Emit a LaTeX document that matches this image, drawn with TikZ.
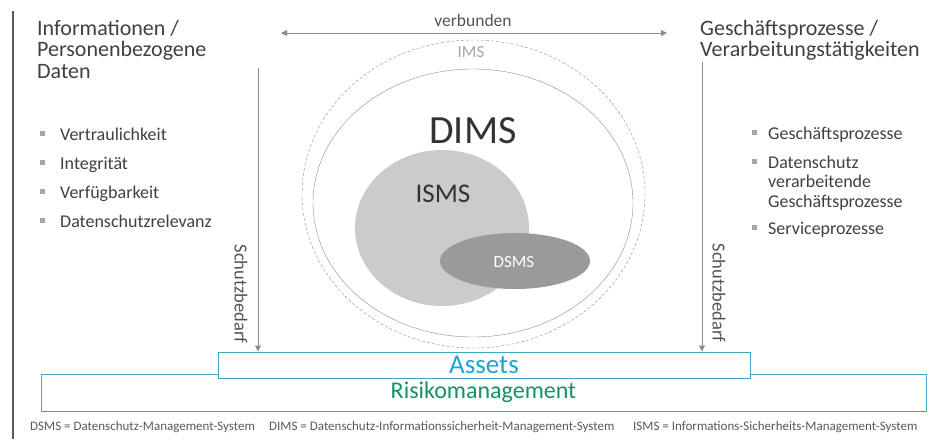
\documentclass[tikz,border=0pt]{standalone}
\usepackage{fontspec}
\setmainfont{Carlito}
\usepackage{xcolor}
\usepackage{tikz}
\usetikzlibrary{positioning, arrows.meta}

\definecolor{textdark}{HTML}{404040}
\definecolor{arrowgray}{HTML}{8C8C8C}
\definecolor{bulletgray}{HTML}{A6A6A6}
\definecolor{ismsgray}{HTML}{CBCBCB}
\definecolor{dsmsgray}{HTML}{9A9A9A}
\definecolor{boxteal}{HTML}{3FA6C0}
\definecolor{assetblue}{HTML}{1BA3D8}
\definecolor{riskgreen}{HTML}{14935E}

\begin{document}
\begin{tikzpicture}[x=1pt, y=-1pt, every node/.style={inner sep=0pt, text=textdark},
  head/.style={font=\fontsize{22}{21.5}\selectfont, align=left, anchor=north west},
  item/.style={font=\fontsize{18}{19.5}\selectfont, align=left, anchor=base west},
  flow/.style={draw=arrowgray, line width=1pt, -{Triangle[length=6pt, width=6pt]}},
  note/.style={font=\fontsize{13}{14}\selectfont, text=black!65, anchor=base west}]

  \useasboundingbox (0,0) rectangle (933,439);
  \draw[black!65, line width=1.3pt] (13,11) -- (13,439);

  % headings
  \node[head] (infohead) at (37,20) {Informationen /\\Personenbezogene\\Daten};
  \node[head] (prochead) at (700,20) {Geschäftsprozesse /\\Verarbeitungstätigkeiten};

  % bullet lists (multi-line items sit on their last baseline)
  \foreach \txt [count=\i] in {Vertraulichkeit, Integrität, Verfügbarkeit, Datenschutzrelevanz} {
    \node[item] (info\i) at (60,111+29*\i) {\txt};
    \fill[bulletgray] (39.5,101.5+29*\i) rectangle ++(5,5);
  }
  \foreach \y/\top/\txt [count=\i] in {139/139/Geschäftsprozesse, 207/168/{Datenschutz\\verarbeitende\\Geschäftsprozesse}, 234/234/Serviceprozesse} {
    \node[item] (proc\i) at (768,\y) {\txt};
    \fill[bulletgray] (752,\top-9.5) rectangle ++(5,5);
  }

  % IMS / DIMS / ISMS / DSMS
  \draw[arrowgray, dash pattern=on 3pt off 2pt] (473.5,194) ellipse [x radius=171.5, y radius=154];
  \draw[arrowgray] (473,203) ellipse [x radius=160, y radius=134];
  \fill[ismsgray] (442,228) ellipse [x radius=87, y radius=78];
  \fill[dsmsgray] (515,261) ellipse [x radius=75, y radius=28];
  \node[anchor=base, text=bulletgray, font=\fontsize{17}{17}\selectfont] (ims) at (471,57) {IMS};
  \node[anchor=base, text=black!80, font=\fontsize{40}{40}\selectfont] (dims) at (473,143) {DIMS};
  \node[anchor=base, text=black!80, font=\fontsize{27}{27}\selectfont] (isms) at (443,202) {ISMS};
  \node[anchor=base, text=white, font=\fontsize{17}{17}\selectfont] (dsms) at (514,267) {DSMS};

  % boxes at the bottom
  \node[draw=boxteal, line width=1pt, minimum width=885pt, minimum height=37pt,
    text=riskgreen, font=\fontsize{24}{24}\selectfont] (risk) at (483.5,392.5) {Risikomanagement};
  \node[draw=boxteal, fill=white, line width=1pt, minimum width=532pt, minimum height=26pt,
    text=assetblue, font=\fontsize{27}{27}\selectfont] (assets) at (484,365) {Assets};

  % arrows
  \coordinate (linfo) at (258,68);
  \coordinate (rproc) at (702,62);
  \coordinate (vleft) at (281,33);
  \coordinate (vright) at (667,33);
  \draw[flow] (linfo) -- (linfo |- assets.north);
  \draw[flow] (rproc) -- (rproc |- assets.north);
  \draw[flow, {Triangle[length=6pt, width=6pt]}-{Triangle[length=6pt, width=6pt]}] (vleft) -- (vright);
  \node[anchor=base, text=textdark!90, font=\fontsize{17.5}{17.5}\selectfont] (verb) at (473,26.5) {verbunden};
  \node[rotate=-90, font=\fontsize{18.5}{18.5}\selectfont, text=textdark!90] (lneed) at (241,294) {Schutzbedarf};
  \node[rotate=-90, font=\fontsize{18.5}{18.5}\selectfont, text=textdark!90] (rneed) at (719,293) {Schutzbedarf};

  % legend line
  \node[note] (dsmsnote) at (30,430) {DSMS = Datenschutz-Management-System};
  \node[note] (dimsnote) at (269,430) {DIMS = Datenschutz-Informationssicherheit-Management-System};
  \node[note] (ismsnote) at (633,430) {ISMS = Informations-Sicherheits-Management-System};
\end{tikzpicture}
\end{document}
